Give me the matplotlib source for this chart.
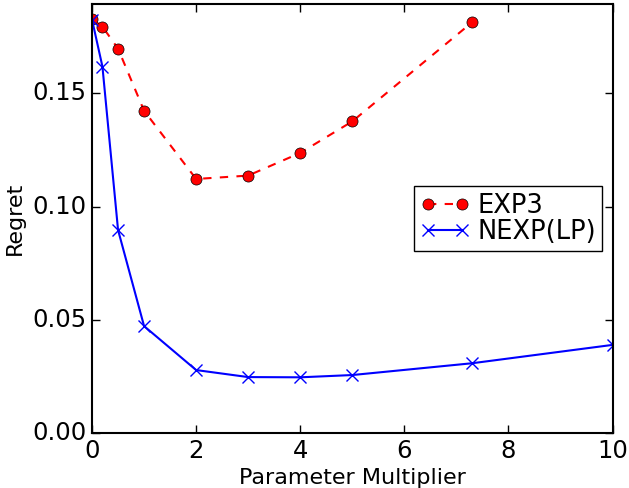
import matplotlib
matplotlib.use("Agg")
import matplotlib.pyplot as plt

# parameter multipliers and regret values
multipliers = [0, 0.2, 0.5, 1, 2, 3, 4, 5, 7.3]
exp3_regret = [0.1827, 0.1794, 0.1697, 0.1423, 0.1122, 0.1137, 0.1237, 0.1376, 0.1813]

multipliers_lp = [0, 0.2, 0.5, 1, 2, 3, 4, 5, 7.3, 10]
nexp_regret = [0.1825, 0.1618, 0.0897, 0.0473, 0.0279, 0.0248, 0.0247, 0.0257, 0.0309, 0.0390]

plt.style.use("classic")
plt.rcParams["font.size"] = 17.5

fig = plt.figure(figsize=(6.29, 4.88), dpi=100, facecolor="white")
ax = fig.add_axes([0.1463, 0.1121, 0.8275, 0.8797])

ax.plot(multipliers, exp3_regret, "r--o", label="EXP3", markersize=8,
        markeredgecolor="black", linewidth=1.5)
ax.plot(multipliers_lp, nexp_regret, "b-x", label="NEXP(LP)", markersize=8,
        markeredgewidth=1.0, linewidth=1.5)

ax.set_xlim(0, 10)
ax.set_ylim(0, 0.1894)
ax.set_yticks([0.0, 0.05, 0.10, 0.15])
ax.set_yticklabels(["0.00", "0.05", "0.10", "0.15"])
ax.set_xlabel("Parameter Multiplier", fontsize=16, labelpad=4)
ax.set_ylabel("Regret", fontsize=16)
for sp in ax.spines.values():
    sp.set_linewidth(1.5)
ax.tick_params(width=1.0, length=6)

ax.legend(loc="center right", numpoints=2, fontsize=18.5, handlelength=1.9,
          borderpad=0.25, labelspacing=0.0, handletextpad=0.3,
          borderaxespad=0.4)

fig.savefig("out.png", dpi=100, facecolor="white")
